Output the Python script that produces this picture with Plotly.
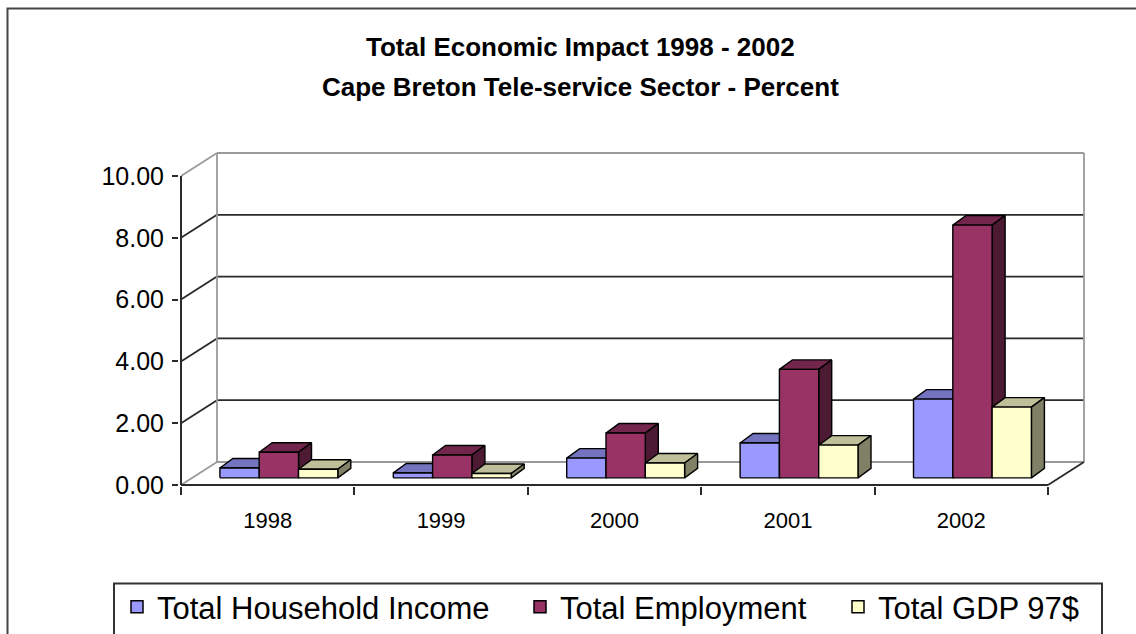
import plotly.graph_objects as go

# ---------------- data ----------------
years = ["1998", "1999", "2000", "2001", "2002"]
household_income = [0.32, 0.16, 0.64, 1.13, 2.55]
employment = [0.83, 0.74, 1.45, 3.51, 8.18]
gdp_97 = [0.28, 0.14, 0.48, 1.06, 2.29]
series_names = ["Total Household Income", "Total Employment", "Total GDP 97$"]
y_tick_values = [0, 2, 4, 6, 8, 10]
y_tick_labels = ["0.00", "2.00", "4.00", "6.00", "8.00", "10.00"]
title_line1 = "Total Economic Impact 1998 - 2002"
title_line2 = "Cape Breton Tele-service Sector - Percent"

# ---------------- style ----------------
front_colors = [(153, 153, 255), (153, 51, 102), (255, 255, 204)]
FONT = "Liberation Sans, Arial, sans-serif"
W, H = 1136, 634
ML, MR, MT, MB = 179, 43, 150, 148
X0_PX, Y0_PX = 181, 485          # pixel of front axis origin
PX_PER_CAT, PX_PER_VAL = 173.4, 30.9
WALL_DX, WALL_DY = 36 / PX_PER_CAT, 23 / PX_PER_VAL
BAR_PLANE = 0.31
BAR_W = 39.3 / PX_PER_CAT
BAR_DX, BAR_DY = 13 / PX_PER_CAT, 9.5 / PX_PER_VAL
DARK, GRAY = "#2a2a2a", "#9a9a9a"
LEGEND_ITEM_PX = [117, 520, 838]
LEGEND_ROW_PY = 607

plot_w, plot_h = W - ML - MR, H - MT - MB
x_range = [(ML - X0_PX) / PX_PER_CAT, (W - MR - X0_PX) / PX_PER_CAT]
y_range = [(Y0_PX - (H - MB)) / PX_PER_VAL, (Y0_PX - MT) / PX_PER_VAL]


def px_to_paper(px, py):
    return (px - ML) / plot_w, (H - MB - py) / plot_h


def shade(rgb, k):
    return "rgb(%d,%d,%d)" % tuple(round(c * k) for c in rgb)


fig = go.Figure()


def line(xs, ys, color, width=1.8):
    fig.add_trace(go.Scatter(x=xs, y=ys, mode="lines", showlegend=False,
                             hoverinfo="skip",
                             line=dict(color=color, width=width)))


def poly(xs, ys, fill):
    fig.add_trace(go.Scatter(x=xs + [xs[0]], y=ys + [ys[0]], mode="lines",
                             fill="toself", fillcolor=fill, showlegend=False,
                             hoverinfo="skip",
                             line=dict(color="black", width=1.4)))


n_cat = len(years)
top_v = y_tick_values[-1]

# ---- walls / gridlines ----
for v in y_tick_values:
    c = GRAY if v in (y_tick_values[0], y_tick_values[-1]) else DARK
    line([0, WALL_DX], [v, v + WALL_DY], c)
    line([WALL_DX, n_cat + WALL_DX], [v + WALL_DY, v + WALL_DY], c)
line([WALL_DX, WALL_DX], [WALL_DY, top_v + WALL_DY], GRAY)
line([n_cat + WALL_DX, n_cat + WALL_DX], [WALL_DY, top_v + WALL_DY], GRAY)
line([0, n_cat], [0, 0], DARK, 2)
line([n_cat, n_cat + WALL_DX], [0, WALL_DY], DARK)
line([0, 0], [0, top_v], DARK, 2)

# ---- 3D bars (painter's order) ----
all_series = [household_income, employment, gdp_97]
base = BAR_PLANE * WALL_DY
for i in range(n_cat):
    for j, vals in enumerate(all_series):
        rgb = front_colors[j]
        xl = i + 0.5 + BAR_PLANE * WALL_DX + (j - 1.5) * BAR_W
        xr = xl + BAR_W
        t = base + vals[i]
        poly([xl, xr, xr + BAR_DX, xl + BAR_DX], [t, t, t + BAR_DY, t + BAR_DY],
             shade(rgb, 0.75))
        poly([xr, xr + BAR_DX, xr + BAR_DX, xr], [base, base + BAR_DY, t + BAR_DY, t],
             shade(rgb, 0.5))
        poly([xl, xr, xr, xl], [base, base, t, t], shade(rgb, 1.0))

# ---- legend entries (one legend per entry for exact placement) ----
legend_layouts = {}
for j, name in enumerate(series_names):
    key = "legend" if j == 0 else "legend%d" % (j + 1)
    fig.add_trace(go.Bar(x=[None], y=[None], name=name, legend=key,
                         marker=dict(color=shade(front_colors[j], 1.0),
                                     line=dict(color="black", width=1.5))))
    lx, ly = px_to_paper(LEGEND_ITEM_PX[j], LEGEND_ROW_PY)
    legend_layouts[key] = dict(orientation="h", x=lx, y=ly, xanchor="left",
                               yanchor="middle", borderwidth=0,
                               bgcolor="rgba(0,0,0,0)",
                               font=dict(family=FONT, size=31, color="black"),
                               itemclick=False, itemdoubleclick=False)

# ---- titles ----
for txt, py in [(title_line1, 47), (title_line2, 87)]:
    ax, ay = px_to_paper(580, py)
    fig.add_annotation(text="<b>%s</b>" % txt, xref="paper", yref="paper",
                       x=ax, y=ay, xanchor="center", yanchor="middle",
                       showarrow=False, font=dict(family=FONT, size=26, color="black"))

# ---- outer chart frame & legend box ----
fx0, fy0 = px_to_paper(7.5, 8.5)
fx1, fy1 = px_to_paper(1150, 650)
fig.add_shape(type="rect", xref="paper", yref="paper", x0=fx0, x1=fx1, y0=fy1, y1=fy0,
              line=dict(color="#444444", width=2), fillcolor="rgba(0,0,0,0)", layer="below")
bx0, by0 = px_to_paper(114, 583.5)
bx1, by1 = px_to_paper(1102, 650)
fig.add_shape(type="rect", xref="paper", yref="paper", x0=bx0, x1=bx1, y0=by1, y1=by0,
              line=dict(color="#333333", width=2), fillcolor="white", layer="below")

fig.update_layout(
    width=W, height=H,
    margin=dict(l=ML, r=MR, t=MT, b=MB, pad=0, autoexpand=False),
    paper_bgcolor="white", plot_bgcolor="white",
    showlegend=True,
    xaxis=dict(range=x_range, showgrid=False, zeroline=False, showline=False,
               tickmode="array", tickvals=[i + 0.5 for i in range(n_cat)],
               ticktext=years, ticks="", ticklabelstandoff=19,
               tickfont=dict(family=FONT, size=22, color="black"),
               minor=dict(tickmode="linear", tick0=0, dtick=1, ticks="outside",
                          ticklen=8, tickwidth=1.5, tickcolor=DARK, showgrid=False)),
    yaxis=dict(range=y_range, showgrid=False, zeroline=False, showline=False,
               tickmode="array", tickvals=y_tick_values, ticktext=y_tick_labels,
               ticks="outside", ticklen=6, tickwidth=1.5, tickcolor=DARK,
               ticklabelstandoff=3,
               tickfont=dict(family=FONT, size=25, color="black")),
    barmode="overlay",
    **legend_layouts,
)

fig.write_html("out.html")
